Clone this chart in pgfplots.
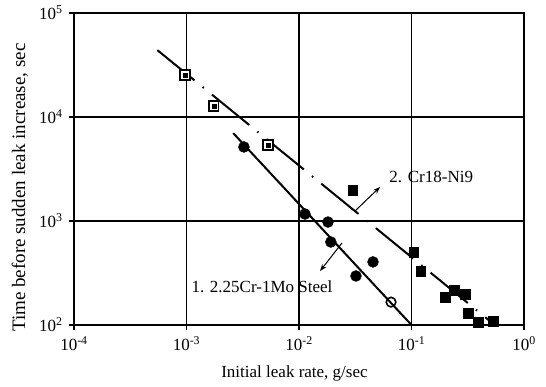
\documentclass[border=0pt]{standalone}
\usepackage{fontspec}
\setmainfont{Liberation Serif}
\usepackage{pgfplots}
\pgfplotsset{compat=1.18}
\usetikzlibrary{arrows.meta}
\newcommand{\bigf}{\fontsize{17}{20}\selectfont}
\begin{document}
\begin{tikzpicture}
\begin{loglogaxis}[
  scale only axis, width=450pt, height=312pt,
  xmin=1e-4, xmax=1, ymin=1e2, ymax=1e5,
  xtick={1e-4,1e-3,1e-2,1e-1,1},
  xticklabels={10\textsuperscript{-4},10\textsuperscript{-3},10\textsuperscript{-2},10\textsuperscript{-1},10\textsuperscript{0}},
  ytick={1e2,1e3,1e4,1e5},
  yticklabels={10\textsuperscript{2},10\textsuperscript{3},10\textsuperscript{4},10\textsuperscript{5}},
  minor xtick={}, minor ytick={},
  minor tick style={draw=none},
  grid=major, major grid style={black, line width=1.1pt},
  axis line style={line width=1.8pt},
  tick align=outside, major tick length=5pt, tick style={black, line width=1.2pt},
  tick pos=left,
  ticklabel style={font=\bigf},
  xticklabel style={yshift=-3pt},
  yticklabel style={xshift=-3pt},
  xlabel={Initial leak rate, g/sec},
  ylabel={Time before sudden leak increase, sec},
  xlabel style={font=\bigf, at={(rel axis cs:0.49,-0.154)}, anchor=center},
  ylabel style={font=\fontsize{19}{23}\selectfont, at={(rel axis cs:-0.12,0.44)}, anchor=center},
]
% fit lines
\addplot[black, line width=2pt] coordinates {(0.0026,7000)(0.1,100)};
\addplot[black, line width=2pt, line cap=butt, dash pattern=on 48pt off 10.5pt on 1.5pt off 10.5pt] coordinates {(0.00055,44000)(0.55,100)};
% 1. 2.25Cr-1Mo steel
\addplot[only marks, mark=*, mark size=5.5pt, black] coordinates {(0.00324,5150)(0.0113,1167)(0.0181,977)(0.0192,628)(0.0455,404)(0.0321,296)};
\addplot[only marks, mark=o, mark size=4.8pt, black, mark options={line width=1.6pt}] coordinates {(0.0658,166)};
% 2. Cr18-Ni9
\addplot[only marks, mark=square*, mark size=4.8pt, black, mark options={fill=white, line width=1.6pt}] coordinates {(0.00097,25350)(0.00175,12770)(0.0053,5380)};
\addplot[only marks, mark=square*, mark size=2pt, black] coordinates {(0.00097,25350)(0.00175,12770)(0.0053,5380)};
\addplot[only marks, mark=square*, mark size=4.8pt, black] coordinates {(0.030,1990)(0.105,503)(0.121,330)(0.199,186)(0.239,217)(0.299,199)(0.318,130)(0.39,107)(0.53,109)};
% annotations
\draw[-{Stealth[length=7pt,width=5pt]}, line width=1pt] (axis cs:0.0315,1248) -- (axis cs:0.0525,2123);
\node[anchor=west, font=\bigf] at (axis cs:0.0593,2650) {2. Cr18-Ni9};
\draw[-{Stealth[length=7pt,width=5pt]}, line width=1pt] (axis cs:0.0241,614) -- (axis cs:0.01538,330);
\node[font=\bigf] at (axis cs:0.00469,232) {1. 2.25Cr-1Mo Steel};
\coordinate (SW) at (rel axis cs:0,0);
\coordinate (NE) at (rel axis cs:1,1);
\end{loglogaxis}
\pgfresetboundingbox
\path ([shift={(-74pt,-62pt)}]SW) rectangle ([shift={(22pt,13pt)}]NE);
\end{tikzpicture}
\end{document}
